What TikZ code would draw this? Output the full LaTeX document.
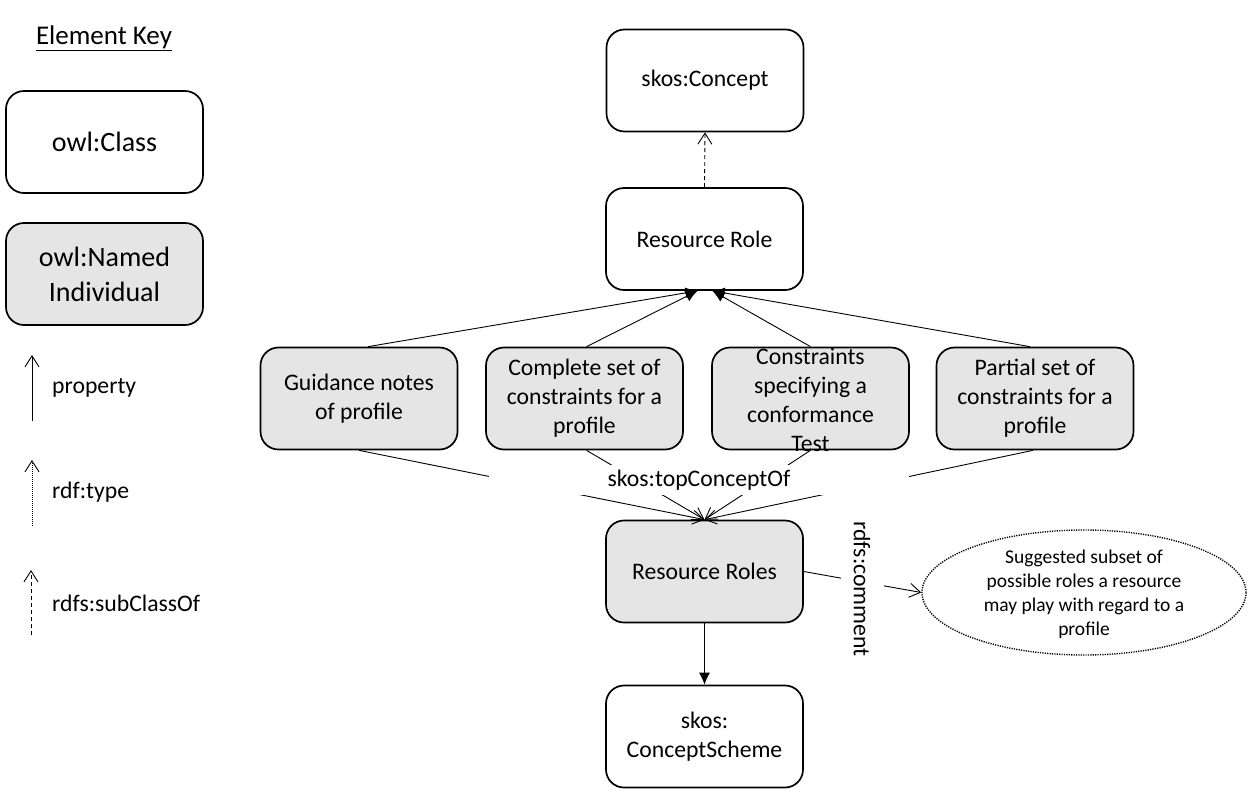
\documentclass[tikz,border=0pt]{standalone}
\usepackage{fontspec}
\setmainfont{Carlito}
\usetikzlibrary{arrows.meta,shapes.geometric}
\begin{document}
\begin{tikzpicture}[x=1pt,y=-1pt,
  box/.style={draw, line width=1.7pt, rounded corners=18pt, minimum width=197pt, minimum height=102pt,
    align=center, font=\fontsize{23.7}{29}\selectfont, inner sep=2pt},
  indiv/.style={box, fill=gray!20},
  keybox/.style={box, font=\fontsize{28}{35}\selectfont},
  boxtext/.style={align=center, font=\fontsize{23.7}{29}\selectfont, inner sep=0pt},
  conn/.style={line width=0.9pt},
  openhead/.style={-{Straight Barb[length=11pt,width=14pt,line width=0.9pt]}},
  fullhead/.style={-{Latex[length=12pt,width=11pt]}},
  keytext/.style={anchor=west, font=\fontsize{23.7}{29}\selectfont, inner sep=0pt},
  lbl/.style={fill=white, inner sep=0pt, font=\fontsize{23.7}{29}\selectfont}
]
\useasboundingbox (0,0) rectangle (1252,798);

% ---------- Element key ----------
\node[font=\fontsize{27}{32}\selectfont, inner sep=0pt] (keytitle) at (104,38) {\underline{Element Key}};
\node[keybox] (kcls) at (104.5,142) {owl:Class};
\node[keybox, fill=gray!20] (kni) at (104.5,274) {owl:Named\\Individual};

\coordinate (kpa) at (32,421); \coordinate (kpb) at (32,355);
\draw[conn, openhead] (kpa) -- (kpb);
\node[keytext] (kpt) at (52,388) {property};

\coordinate (kta) at (32,526); \coordinate (ktb) at (32,460);
\draw[conn, openhead, dash pattern=on 1pt off 1pt] (kta) -- (ktb);
\node[keytext] (ktt) at (52,492) {rdf:type};

\coordinate (ksa) at (31,635); \coordinate (ksb) at (31,570);
\draw[conn, openhead, dash pattern=on 4pt off 3pt] (ksa) -- (ksb);
\node[keytext] (kst) at (52,603) {rdfs:subClassOf};

% ---------- main nodes ----------
\node[box] (sc) at (705,80.5) {skos:Concept};
\node[box] (rr) at (704.5,239) {Resource Role};
\node[indiv] (g) at (359,398.5) {Guidance notes\\of profile};
\node[indiv] (c) at (584.5,398.5) {Complete set of\\constraints for a\\profile};
\node[indiv] (t) at (810.5,398.5) {};
\node[boxtext] (ttxt) at ([yshift=-1pt]t.center) {Constraints\\specifying a\\conformance\\Test};
\node[indiv] (p) at (1035,398.5) {Partial set of\\constraints for a\\profile};
\node[indiv] (rrs) at (704.5,571.5) {Resource Roles};
\node[box] (cs) at (704.5,736.5) {skos:\\ConceptScheme};

\node[ellipse, draw, line width=1.4pt, dash pattern=on 1.2pt off 1.2pt,
      minimum width=324pt, minimum height=125pt] (note) at (1084,592.5) {};
\node[align=center, font=\fontsize{19.5}{24}\selectfont, inner sep=0pt] (notetxt) at ([yshift=-2pt]note.center)
  {Suggested subset of\\possible roles a resource\\may play with regard to a\\profile};

% ---------- connectors ----------
\draw[conn, openhead, dash pattern=on 4pt off 3pt] (rr.north) -- (sc.south);

\draw[conn, fullhead] ([xshift=9pt]g.north) -- ([xshift=-7pt]rr.south);
\draw[conn, fullhead] ([xshift=2pt]c.north) -- ([xshift=-7pt]rr.south);
\draw[conn, fullhead] (t.north) -- ([xshift=8pt]rr.south);
\draw[conn, fullhead] ([xshift=-5pt]p.north) -- ([xshift=8pt]rr.south);

\draw[conn, openhead] (g.south) -- (rrs.north);
\draw[conn, openhead] ([xshift=2pt]c.south) -- (rrs.north);
\draw[conn, openhead] (t.south) -- (rrs.north);
\draw[conn, openhead] ([xshift=-2pt]p.south) -- (rrs.north);
\node[lbl, minimum width=420pt, minimum height=30pt] (tco) at (699,480) {skos:topConceptOf};

\draw[conn, fullhead] (rrs.south) -- (cs.north);

\draw[conn, openhead] (rrs.east) -- (note.west);
\node[lbl, rotate=-90, minimum height=43pt, inner xsep=4pt] (cmt) at (862,589) {rdfs:comment};
\end{tikzpicture}
\end{document}
